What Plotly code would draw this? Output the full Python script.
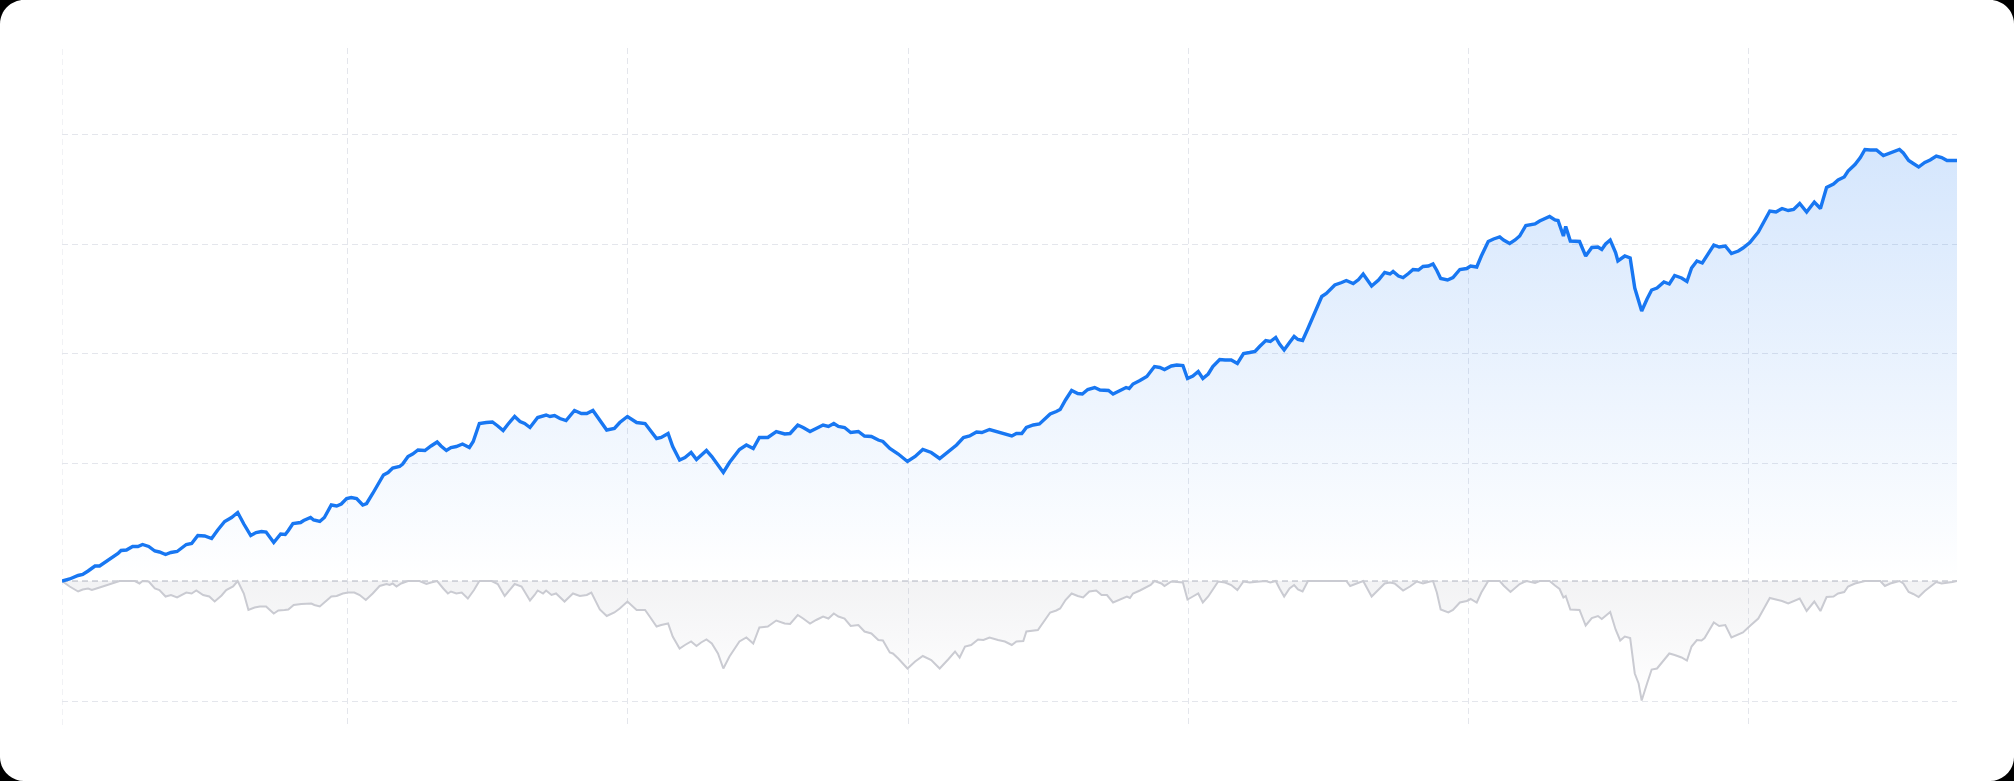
import numpy as np
import pandas as pd
import plotly.graph_objects as go

# ---------------- data (days since 2017-12-25, cumulative return %, drawdown %) ----------------
START = "2017-12-25"

ret_days = [
    0, 10, 21, 27, 34, 43, 49, 56, 65, 73,
    77, 84, 92, 99, 105, 113, 121, 127, 135, 142,
    150, 156, 162, 169, 177, 186, 195, 203, 212, 221,
    229, 237, 246, 253, 260, 266, 276, 285, 291, 295,
    301, 311, 315, 324, 328, 336, 342, 351, 358, 364,
    371, 377, 384, 392, 397, 405, 414, 419, 425, 431,
    440, 444, 451, 457, 464, 473, 481, 489, 494, 501,
    507, 514, 522, 531, 536, 544, 553, 561, 568, 575,
    581, 590, 597, 603, 610, 620, 631, 636, 642, 649,
    657, 668, 677, 684, 692, 701, 710, 720, 727, 737,
    749, 760, 766, 775, 781, 790, 796, 805, 812, 820,
    827, 833, 840, 847, 855, 862, 870, 883, 892, 901,
    909, 920, 931, 942, 949, 959, 966, 975, 983, 992,
    999, 1006, 1012, 1020, 1028, 1038, 1046, 1055, 1064, 1070,
    1079, 1090, 1102, 1112, 1122, 1133, 1144, 1155, 1166, 1175,
    1183, 1192, 1199, 1209, 1220, 1229, 1238, 1244, 1251, 1257,
    1266, 1274, 1281, 1288, 1296, 1301, 1308, 1316, 1324, 1330,
    1337, 1346, 1353, 1364, 1370, 1379, 1387, 1391, 1396, 1405,
    1414, 1419, 1424, 1431, 1437, 1446, 1453, 1461, 1467, 1474,
    1481, 1487, 1494, 1500, 1509, 1516, 1524, 1532, 1540, 1548,
    1555, 1561, 1569, 1575, 1582, 1587, 1593, 1600, 1606, 1611,
    1617, 1624, 1633, 1642, 1648, 1659, 1668, 1674, 1683, 1690,
    1696, 1701, 1707, 1716, 1724, 1731, 1735, 1742, 1748, 1755,
    1761, 1768, 1774, 1781, 1787, 1792, 1797, 1806, 1813, 1822,
    1831, 1836, 1844, 1850, 1859, 1866, 1874, 1879, 1887, 1894,
    1900, 1908, 1920, 1926, 1932, 1939, 1946, 1950, 1957, 1960,
    1966, 1978, 1986, 1994, 2002, 2007, 2012, 2018, 2025, 2028,
    2037, 2044, 2050, 2055, 2059, 2066, 2072, 2079, 2088, 2095,
    2102, 2111, 2118, 2124, 2131, 2138, 2146, 2153, 2160, 2168,
    2176, 2185, 2191, 2200, 2211, 2218, 2226, 2234, 2242, 2250,
    2257, 2265, 2274, 2284, 2292, 2300, 2309, 2315, 2323, 2328,
    2337, 2344, 2350, 2357, 2365, 2374, 2382, 2389, 2395, 2400,
    2407, 2413, 2420, 2428, 2435, 2443, 2450, 2457, 2464, 2470,
]
ret_vals = [
    0, 0.4, 1.1, 1.3, 2.0, 3.0, 3.0, 3.7, 4.7, 5.5,
    6.1, 6.2, 6.9, 6.9, 7.3, 6.9, 6.0, 5.8, 5.3, 5.7,
    5.9, 6.7, 7.3, 7.5, 9.1, 9.0, 8.5, 10.2, 11.9, 12.7,
    13.7, 11.4, 9.1, 9.7, 9.9, 9.8, 7.7, 9.4, 9.3, 10.1,
    11.5, 11.7, 12.1, 12.7, 12.2, 11.9, 12.7, 15.2, 15.0, 15.4,
    16.5, 16.7, 16.5, 15.2, 15.5, 17.5, 19.9, 21.2, 21.7, 22.6,
    22.9, 23.4, 24.9, 25.4, 26.2, 26.1, 27.0, 27.8, 27.0, 26.1,
    26.7, 26.9, 27.4, 26.7, 27.9, 31.5, 31.7, 31.8, 31.0, 30.1,
    31.3, 32.9, 31.9, 31.5, 30.7, 32.7, 33.2, 32.9, 33.1, 32.5,
    32.1, 34.1, 33.5, 33.5, 34.1, 32.2, 30.2, 30.5, 31.7, 32.9,
    31.7, 31.5, 30.2, 28.5, 28.7, 29.5, 26.9, 24.2, 24.7, 25.7,
    24.3, 25.2, 26.1, 24.9, 23.2, 21.7, 23.7, 26.3, 27.2, 26.5,
    28.7, 28.7, 29.9, 29.4, 29.5, 31.2, 30.7, 29.9, 30.5, 31.2,
    30.9, 31.5, 30.9, 30.7, 29.7, 29.9, 29.0, 28.9, 28.2, 27.9,
    26.5, 25.4, 23.9, 24.9, 26.3, 25.7, 24.5, 25.9, 27.2, 28.7,
    29.0, 29.8, 29.7, 30.3, 29.8, 29.5, 29.0, 29.5, 29.5, 30.7,
    31.2, 31.4, 32.3, 33.4, 33.9, 34.3, 36.2, 38.1, 37.5, 37.4,
    38.3, 38.7, 38.2, 38.1, 37.4, 38.1, 38.7, 38.5, 39.4, 40.1,
    40.9, 41.9, 42.9, 42.7, 42.3, 43.0, 43.2, 43.1, 40.5, 41.0,
    41.9, 40.5, 41.4, 42.9, 44.3, 44.2, 44.2, 43.5, 45.5, 45.7,
    45.9, 46.9, 48.1, 47.9, 48.7, 47.4, 46.2, 47.7, 48.9, 48.3,
    48.1, 50.5, 53.9, 56.9, 57.5, 59.2, 59.7, 60.1, 59.5, 60.3,
    61.4, 60.2, 59.0, 60.2, 61.7, 61.4, 61.9, 61.0, 60.7, 61.5,
    62.3, 62.2, 62.9, 63.0, 63.4, 62.1, 60.5, 60.2, 60.7, 62.3,
    62.5, 63.0, 62.8, 65.0, 67.9, 68.4, 68.8, 68.2, 67.5, 68.2,
    69.0, 71.1, 71.4, 72.0, 72.4, 72.9, 72.2, 72.1, 69.0, 70.9,
    68.0, 67.9, 65.0, 66.7, 66.8, 66.3, 67.4, 68.2, 65.7, 64.0,
    65.0, 64.6, 58.6, 56.2, 54.0, 56.4, 58.2, 58.6, 59.8, 59.4,
    61.1, 60.6, 59.9, 62.6, 64.0, 63.6, 65.5, 67.2, 66.8, 67.0,
    65.5, 66.0, 66.6, 67.7, 69.8, 71.9, 74.0, 73.8, 74.5, 74.1,
    74.3, 75.5, 73.8, 75.8, 74.5, 78.7, 79.4, 80.2, 80.8, 82.0,
    83.3, 84.7, 86.3, 86.2, 86.2, 85.1, 85.6, 86.0, 86.3, 85.6,
    84.1, 83.5, 82.8, 83.7, 84.2, 85.0, 84.7, 84.1, 84.1, 84.1,
]

dd_days = [
    0, 10, 21, 27, 34, 39, 49, 60, 69, 75,
    95, 101, 105, 113, 121, 127, 135, 142, 150, 156,
    162, 169, 175, 184, 192, 199, 208, 214, 223, 229,
    237, 243, 251, 258, 266, 276, 282, 290, 295, 302,
    312, 325, 329, 336, 342, 351, 358, 366, 373, 381,
    388, 396, 405, 414, 423, 427, 431, 436, 442, 451,
    466, 475, 481, 489, 497, 503, 507, 514, 521, 529,
    537, 544, 560, 568, 577, 584, 590, 599, 610, 616,
    620, 627, 631, 638, 644, 655, 666, 675, 684, 690,
    701, 710, 716, 720, 727, 737, 749, 760, 766, 775,
    781, 790, 796, 805, 812, 820, 827, 833, 840, 847,
    855, 862, 870, 883, 892, 901, 909, 920, 931, 942,
    949, 959, 966, 975, 983, 992, 999, 1006, 1012, 1020,
    1028, 1038, 1046, 1055, 1064, 1070, 1079, 1083, 1090, 1102,
    1112, 1122, 1133, 1144, 1155, 1164, 1170, 1177, 1185, 1194,
    1201, 1209, 1220, 1229, 1238, 1244, 1253, 1257, 1272, 1281,
    1288, 1296, 1301, 1308, 1316, 1324, 1331, 1339, 1348, 1355,
    1362, 1370, 1379, 1388, 1392, 1396, 1405, 1414, 1419, 1424,
    1433, 1437, 1446, 1461, 1467, 1474, 1481, 1487, 1494, 1507,
    1516, 1524, 1532, 1540, 1548, 1561, 1569, 1575, 1582, 1587,
    1593, 1600, 1606, 1611, 1617, 1624, 1674, 1679, 1687, 1696,
    1707, 1716, 1724, 1731, 1737, 1748, 1757, 1766, 1774, 1783,
    1787, 1792, 1797, 1807, 1813, 1822, 1831, 1836, 1844, 1850,
    1859, 1874, 1879, 1888, 1894, 1900, 1909, 1920, 1926, 1939,
    1946, 1952, 1957, 1960, 1966, 1978, 1986, 1994, 2002, 2007,
    2018, 2025, 2031, 2037, 2044, 2050, 2055, 2059, 2066, 2072,
    2079, 2088, 2095, 2102, 2111, 2118, 2124, 2131, 2137, 2141,
    2146, 2153, 2160, 2168, 2176, 2185, 2191, 2200, 2211, 2218,
    2226, 2234, 2242, 2250, 2257, 2265, 2274, 2284, 2292, 2300,
    2309, 2315, 2323, 2328, 2337, 2344, 2350, 2370, 2376, 2383,
    2389, 2395, 2400, 2407, 2413, 2420, 2428, 2435, 2443, 2450,
    2457, 2464, 2470,
]
dd_vals = [
    0, -1.1, -2.1, -1.7, -1.5, -1.8, -1.3, -0.7, -0.2, 0,
    0, -0.5, 0, -0.1, -1.5, -1.8, -3.1, -2.8, -3.3, -2.8,
    -2.3, -2.5, -1.9, -2.8, -3.1, -4.1, -2.9, -1.8, -1.1, 0,
    -2.5, -5.8, -5.3, -5.1, -5.1, -6.5, -5.9, -5.8, -5.7, -4.8,
    -4.6, -4.5, -4.8, -5.1, -4.3, -3.1, -3.0, -2.5, -2.3, -2.3,
    -2.8, -3.8, -2.5, -1.0, -0.6, -0.8, -0.5, -1.1, -0.5, 0,
    0, -0.6, -0.3, 0, -1.5, -2.5, -2.1, -2.5, -2.3, -3.5,
    -1.8, 0, 0, -0.6, -3.0, -1.8, -0.6, -1.1, -3.9, -2.8,
    -1.9, -2.5, -1.9, -2.8, -2.5, -4.1, -2.5, -3.0, -2.8, -2.3,
    -5.7, -7.0, -6.5, -6.3, -5.5, -4.1, -5.8, -5.8, -7.1, -9.1,
    -8.8, -8.5, -11.1, -13.5, -12.8, -12.1, -13.0, -12.3, -11.7, -12.5,
    -14.5, -17.5, -15.1, -12.1, -11.3, -12.5, -9.3, -9.1, -7.9, -8.5,
    -8.6, -6.8, -7.5, -8.5, -7.8, -7.1, -7.5, -6.5, -7.1, -7.5,
    -9.0, -8.8, -10.1, -10.5, -11.8, -11.9, -14.3, -14.5, -15.5, -17.5,
    -16.1, -15.0, -15.8, -17.5, -15.7, -14.1, -15.3, -13.1, -12.8, -11.7,
    -11.8, -11.3, -11.8, -12.1, -12.8, -12.1, -12.0, -10.1, -9.8, -7.8,
    -6.3, -5.9, -5.5, -3.8, -2.5, -3.0, -3.3, -2.1, -1.9, -2.8,
    -2.8, -4.3, -3.7, -3.1, -3.4, -2.5, -1.9, -1.1, -0.8, 0,
    -0.5, -1.0, -0.1, -0.3, -3.7, -3.1, -2.5, -4.3, -3.1, -0.1,
    -0.3, -0.8, -1.8, -0.1, -0.3, -0.1, 0, -0.3, 0, -1.5,
    -3.1, -1.5, -0.8, -1.7, -2.1, 0, 0, -1.0, -0.5, 0,
    -3.1, -1.8, -0.5, -0.3, -0.5, -1.9, -1.1, -0.1, -0.5, -0.1,
    0, -2.3, -5.7, -6.3, -5.8, -4.3, -4.0, -3.6, -4.3, -2.3,
    0, 0, -0.9, -2.2, -1.3, -0.6, 0, -0.4, 0, 0,
    -0.9, -1.6, -3.3, -3.0, -5.7, -5.8, -8.9, -7.4, -7.0, -7.6,
    -6.2, -9.7, -11.9, -11.1, -11.4, -18.5, -20.5, -23.9, -20.5, -17.7,
    -17.5, -15.8, -14.5, -14.8, -15.3, -15.9, -13.1, -11.8, -11.9, -11.4,
    -10.1, -8.3, -9.0, -8.8, -11.3, -10.7, -10.3, -9.0, -7.5, -5.6,
    -3.4, -3.7, -4.0, -4.5, -4.1, -3.5, -6.0, -4.1, -6.0, -3.2,
    -3.1, -2.5, -2.2, -1.1, -0.5, -0.2, 0, 0, -1.0, -0.5,
    -0.2, 0, -0.5, -2.2, -2.6, -3.2, -2.0, -1.1, -0.2, -0.5,
    -0.4, -0.2, 0,
]

grid_dates = ["2019-01-01", "2020-01-01", "2021-01-01",
              "2022-01-01", "2023-01-01", "2024-01-01"]
grid_levels = [-24.0, 23.6, 45.5, 67.4, 89.3]

assert len(ret_days) == len(ret_vals)
assert len(dd_days) == len(dd_vals)

start = pd.Timestamp(START)
ret_x = start + pd.to_timedelta(ret_days, unit="D")
dd_x = start + pd.to_timedelta(dd_days, unit="D")
x_end = start + pd.Timedelta(days=max(ret_days))

# ---------------- styling ----------------
W, H = 2014, 781
ML, MR, MT, MB = 62, 57, 48, 56
PW, PH = W - ML - MR, H - MT - MB

BLUE = "rgb(24,119,242)"
GREY_LINE = "rgb(202,203,210)"
GRID = "rgb(228,230,236)"
ZERO = "rgb(203,206,214)"
DASH = "6px,4px"

fig = go.Figure()

fig.add_trace(go.Scatter(
    x=dd_x, y=dd_vals, mode="lines",
    line=dict(color=GREY_LINE, width=2),
    fill="tozeroy",
    fillgradient=dict(type="vertical", start=-24, stop=0,
                      colorscale=[[0, "rgba(150,152,165,0.0)"], [1, "rgba(150,152,165,0.12)"]]),
    hoverinfo="skip", showlegend=False,
))
fig.add_trace(go.Scatter(
    x=ret_x, y=ret_vals, mode="lines",
    line=dict(color=BLUE, width=3.4),
    fill="tozeroy",
    fillgradient=dict(type="vertical", start=0, stop=90,
                      colorscale=[[0, "rgba(24,119,242,0.0)"], [1, "rgba(24,119,242,0.19)"]]),
    hoverinfo="skip", showlegend=False,
))


def fx(px):
    return (px - ML) / PW


def fy(py):
    return (H - MB - py) / PH


R = 24
card = (
    f"M {fx(R)},{fy(0)} L {fx(W - R)},{fy(0)} "
    f"C {fx(W - R * 0.45)},{fy(0)} {fx(W)},{fy(R * 0.45)} {fx(W)},{fy(R)} "
    f"L {fx(W)},{fy(H - R)} "
    f"C {fx(W)},{fy(H - R * 0.45)} {fx(W - R * 0.45)},{fy(H)} {fx(W - R)},{fy(H)} "
    f"L {fx(R)},{fy(H)} "
    f"C {fx(R * 0.45)},{fy(H)} {fx(0)},{fy(H - R * 0.45)} {fx(0)},{fy(H - R)} "
    f"L {fx(0)},{fy(R)} "
    f"C {fx(0)},{fy(R * 0.45)} {fx(R * 0.45)},{fy(0)} {fx(R)},{fy(0)} Z"
)

fig.update_layout(
    width=W, height=H, autosize=False,
    margin=dict(l=ML, r=MR, t=MT, b=MB, pad=0),
    paper_bgcolor="#000000",
    plot_bgcolor="rgba(0,0,0,0)",
    showlegend=False,
    hovermode=False,
    shapes=[
        dict(type="path", xref="paper", yref="paper", path=card,
             fillcolor="#ffffff", line=dict(width=0), layer="below"),
        # left edge grid line (start of the series)
        dict(type="line", xref="x", yref="paper", x0=start, x1=start, y0=0, y1=1,
             line=dict(color=GRID, width=1, dash=DASH), layer="below"),
        # zero baseline
        dict(type="line", xref="paper", yref="y", x0=0, x1=1, y0=0, y1=0,
             line=dict(color=ZERO, width=1.5, dash=DASH), layer="below"),
    ],
)
fig.update_xaxes(
    type="date", range=[start, x_end],
    tickmode="array", tickvals=grid_dates,
    showticklabels=False, ticks="",
    showgrid=True, gridcolor=GRID, gridwidth=1, griddash=DASH,
    zeroline=False, showline=False, fixedrange=True,
)
fig.update_yaxes(
    range=[-28.8, 106.6],
    tickmode="array", tickvals=grid_levels,
    showticklabels=False, ticks="",
    showgrid=True, gridcolor=GRID, gridwidth=1, griddash=DASH,
    zeroline=False, showline=False, fixedrange=True,
)

fig.write_html(
    "out.html",
    config={"displayModeBar": False, "staticPlot": True},
    post_script="document.body.style.margin='0';document.body.style.background='#000';document.body.style.overflow='hidden';",
)
